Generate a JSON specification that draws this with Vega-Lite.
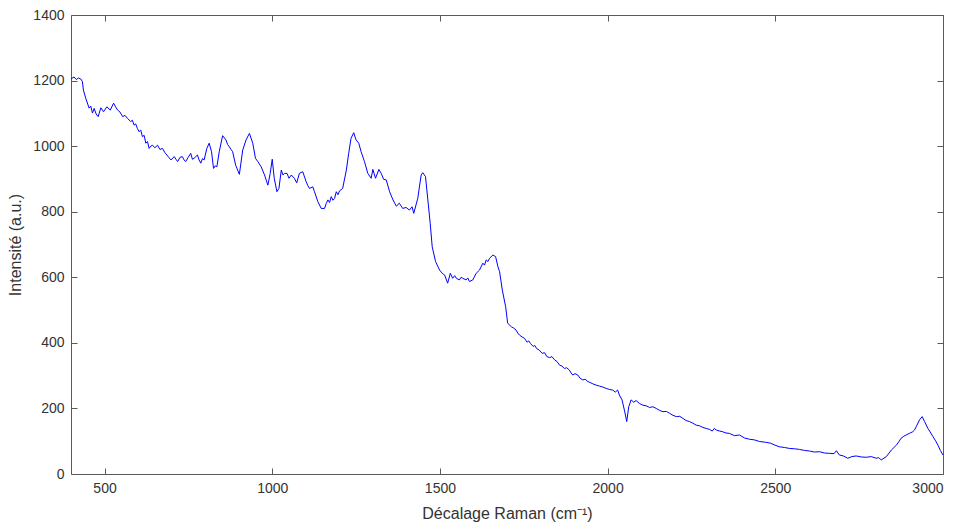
{
  "$schema": "https://vega.github.io/schema/vega-lite/v6.json",
  "autosize": "none",
  "width": 872,
  "height": 459,
  "padding": {"left": 71, "top": 15, "right": 20, "bottom": 52},
  "background": "white",
  "config": {
    "view": {"stroke": null},
    "font": "Liberation Sans",
    "axis": {
      "grid": false,
      "domainColor": "#5a5a5a",
      "tickColor": "#5a5a5a",
      "labelColor": "#333333",
      "titleColor": "#333333",
      "labelFont": "Liberation Sans",
      "titleFont": "Liberation Sans",
      "labelFontSize": 14,
      "titleFontSize": 16,
      "titleFontWeight": "normal",
      "tickSize": -6,
      "labelPadding": 13,
      "format": "d"
    }
  },
  "data": {"values": [
    {"x":400,"y":1205},{"x":409,"y":1211},{"x":416,"y":1203},{"x":422,"y":1208},{"x":429,"y":1205},{"x":434,"y":1197},{"x":437,"y":1171},{"x":444,"y":1146},
    {"x":454,"y":1116},{"x":459,"y":1122},{"x":464,"y":1101},{"x":469,"y":1115},{"x":475,"y":1098},{"x":481,"y":1090},{"x":489,"y":1117},{"x":497,"y":1105},
    {"x":507,"y":1120},{"x":517,"y":1110},{"x":527,"y":1131},{"x":533,"y":1120},{"x":539,"y":1110},{"x":546,"y":1104},{"x":554,"y":1090},{"x":561,"y":1094},{"x":568,"y":1085},
    {"x":578,"y":1075},{"x":583,"y":1079},{"x":588,"y":1064},{"x":593,"y":1068},{"x":598,"y":1054},{"x":603,"y":1044},{"x":608,"y":1049},{"x":613,"y":1029},{"x":618,"y":1033},{"x":623,"y":1009},
    {"x":628,"y":1014},{"x":633,"y":993},{"x":638,"y":1000},{"x":643,"y":1003},{"x":650,"y":995},{"x":658,"y":1003},{"x":665,"y":990},{"x":673,"y":993},{"x":680,"y":980},{"x":686,"y":973},{"x":692,"y":965},{"x":698,"y":958},
    {"x":708,"y":968},{"x":713,"y":960},{"x":718,"y":953},{"x":725,"y":966},{"x":732,"y":968},{"x":737,"y":958},{"x":742,"y":953},{"x":749,"y":965},{"x":757,"y":978},{"x":762,"y":960},{"x":767,"y":963},
    {"x":777,"y":973},{"x":782,"y":958},{"x":787,"y":948},{"x":792,"y":962},{"x":797,"y":958},{"x":805,"y":993},{"x":812,"y":1009},{"x":819,"y":983},
    {"x":825,"y":932},{"x":830,"y":940},{"x":835,"y":937},{"x":842,"y":983},{"x":852,"y":1032},{"x":862,"y":1019},{"x":867,"y":1005},{"x":872,"y":998},
    {"x":877,"y":990},{"x":882,"y":983},{"x":891,"y":942},{"x":902,"y":914},{"x":912,"y":988},{"x":922,"y":1019},{"x":932,"y":1039},
    {"x":942,"y":1009},{"x":950,"y":963},{"x":957,"y":953},{"x":967,"y":937},{"x":977,"y":912},{"x":987,"y":881},
    {"x":994,"y":917},{"x":1000,"y":960},{"x":1006,"y":902},{"x":1014,"y":861},{"x":1020,"y":871},{"x":1027,"y":927},
    {"x":1032,"y":912},{"x":1037,"y":917},{"x":1044,"y":917},{"x":1050,"y":902},{"x":1057,"y":912},{"x":1066,"y":902},{"x":1073,"y":888},
    {"x":1081,"y":917},{"x":1091,"y":922},{"x":1101,"y":892},{"x":1106,"y":880},{"x":1111,"y":871},{"x":1121,"y":876},{"x":1126,"y":861},
    {"x":1136,"y":831},{"x":1146,"y":810},{"x":1156,"y":810},{"x":1161,"y":825},{"x":1166,"y":836},{"x":1171,"y":828},{"x":1176,"y":846},{"x":1181,"y":835},{"x":1186,"y":841},
    {"x":1191,"y":861},{"x":1196,"y":852},{"x":1201,"y":864},{"x":1210,"y":871},{"x":1221,"y":927},{"x":1228,"y":978},{"x":1235,"y":1024},
    {"x":1243,"y":1041},{"x":1250,"y":1019},{"x":1258,"y":1009},{"x":1265,"y":983},{"x":1275,"y":953},{"x":1285,"y":917},
    {"x":1295,"y":902},{"x":1300,"y":929},{"x":1308,"y":902},{"x":1318,"y":929},{"x":1325,"y":917},{"x":1332,"y":899},
    {"x":1340,"y":897},{"x":1350,"y":861},{"x":1360,"y":836},{"x":1370,"y":817},{"x":1379,"y":826},{"x":1389,"y":810},
    {"x":1399,"y":813},{"x":1409,"y":805},{"x":1417,"y":815},{"x":1422,"y":795},{"x":1434,"y":841},{"x":1444,"y":912},
    {"x":1449,"y":919},{"x":1457,"y":907},{"x":1464,"y":836},{"x":1471,"y":765},{"x":1477,"y":693},{"x":1487,"y":648},
    {"x":1499,"y":622},{"x":1507,"y":612},{"x":1514,"y":607},{"x":1523,"y":582},{"x":1531,"y":612},{"x":1538,"y":597},{"x":1544,"y":605},{"x":1549,"y":597},
    {"x":1558,"y":592},{"x":1563,"y":600},{"x":1568,"y":597},{"x":1578,"y":592},{"x":1583,"y":598},{"x":1588,"y":587},{"x":1598,"y":592},{"x":1608,"y":612},
    {"x":1618,"y":622},{"x":1628,"y":643},{"x":1633,"y":637},{"x":1638,"y":653},{"x":1643,"y":648},{"x":1648,"y":658},{"x":1658,"y":668},{"x":1666,"y":663},
    {"x":1673,"y":632},{"x":1678,"y":617},{"x":1686,"y":561},{"x":1696,"y":510},{"x":1702,"y":460},{"x":1713,"y":449},
    {"x":1720,"y":445},{"x":1727,"y":439},{"x":1732,"y":430},{"x":1737,"y":424},{"x":1745,"y":418},{"x":1752,"y":414},{"x":1760,"y":402},{"x":1765,"y":406},{"x":1770,"y":398},{"x":1778,"y":389},{"x":1783,"y":392},{"x":1788,"y":383},{"x":1796,"y":378},{"x":1805,"y":368},
    {"x":1812,"y":370},{"x":1819,"y":358},{"x":1827,"y":355},{"x":1834,"y":358},{"x":1842,"y":348},{"x":1849,"y":343},{"x":1857,"y":332},{"x":1864,"y":329},{"x":1871,"y":322},{"x":1878,"y":324},{"x":1886,"y":317},{"x":1891,"y":308},{"x":1896,"y":302},
    {"x":1903,"y":306},{"x":1911,"y":302},{"x":1918,"y":292},{"x":1926,"y":287},{"x":1933,"y":289},{"x":1941,"y":282},{"x":1948,"y":279},{"x":1956,"y":275},{"x":1966,"y":271},{"x":1976,"y":268},{"x":1986,"y":265},{"x":1996,"y":261},
    {"x":2005,"y":258},{"x":2015,"y":256},{"x":2023,"y":250},{"x":2030,"y":256},{"x":2035,"y":241},{"x":2043,"y":226},{"x":2050,"y":195},{"x":2057,"y":160},
    {"x":2063,"y":205},{"x":2070,"y":226},{"x":2078,"y":219},{"x":2085,"y":224},{"x":2095,"y":215},{"x":2105,"y":210},{"x":2115,"y":208},{"x":2125,"y":203},{"x":2135,"y":205},{"x":2145,"y":200},
    {"x":2155,"y":194},{"x":2165,"y":190},{"x":2175,"y":191},{"x":2185,"y":185},{"x":2195,"y":179},{"x":2205,"y":175},{"x":2215,"y":176},{"x":2224,"y":170},{"x":2234,"y":163},{"x":2244,"y":160},{"x":2254,"y":155},{"x":2264,"y":149},
    {"x":2274,"y":147},{"x":2284,"y":142},{"x":2294,"y":139},{"x":2304,"y":136},{"x":2312,"y":131},{"x":2318,"y":139},{"x":2324,"y":134},{"x":2334,"y":131},{"x":2343,"y":129},{"x":2353,"y":125},{"x":2363,"y":124},{"x":2378,"y":117},{"x":2393,"y":119},
    {"x":2408,"y":110},{"x":2423,"y":106},{"x":2438,"y":104},{"x":2453,"y":99},{"x":2470,"y":97},{"x":2486,"y":94},{"x":2499,"y":88},{"x":2512,"y":83},{"x":2527,"y":81},{"x":2542,"y":78},{"x":2557,"y":77},{"x":2572,"y":75},
    {"x":2587,"y":72},{"x":2602,"y":70},{"x":2617,"y":67},{"x":2632,"y":68},{"x":2647,"y":64},{"x":2662,"y":63},{"x":2675,"y":62},{"x":2682,"y":71},{"x":2691,"y":58},{"x":2703,"y":55},{"x":2716,"y":48},
    {"x":2728,"y":53},{"x":2741,"y":55},{"x":2756,"y":52},{"x":2771,"y":51},{"x":2786,"y":53},{"x":2801,"y":48},{"x":2808,"y":50},{"x":2816,"y":43},{"x":2831,"y":53},{"x":2846,"y":73},
    {"x":2861,"y":88},{"x":2868,"y":98},{"x":2875,"y":109},{"x":2883,"y":115},{"x":2890,"y":119},{"x":2900,"y":124},{"x":2910,"y":129},{"x":2915,"y":134},{"x":2920,"y":144},{"x":2930,"y":165},
    {"x":2938,"y":175},{"x":2945,"y":160},{"x":2955,"y":139},{"x":2962,"y":128},{"x":2970,"y":114},{"x":2978,"y":101},{"x":2985,"y":88},{"x":2992,"y":72},{"x":3000,"y":58}
  ]},
  "layer": [
    {
      "mark": {"type": "line", "color": "#0000ff", "strokeWidth": 1, "interpolate": "linear"},
      "encoding": {
        "x": {"field": "x", "type": "quantitative", "scale": {"domain": [400, 3000], "nice": false, "zero": false},
              "axis": {"orient": "bottom", "values": [500,1000,1500,2000,2500,3000], "title": "Décalage Raman (cm⁻¹)", "titlePadding": 10}},
        "y": {"field": "y", "type": "quantitative", "scale": {"domain": [0, 1400], "nice": false},
              "axis": {"orient": "left", "values": [0,200,400,600,800,1000,1200,1400], "title": "Intensité (a.u.)", "titlePadding": 9}}
      }
    },
    {
      "mark": {"type": "line", "opacity": 0},
      "encoding": {
        "x": {"field": "x", "type": "quantitative", "axis": {"orient": "top", "values": [500,1000,1500,2000,2500,3000], "labels": false, "title": null}},
        "y": {"field": "y", "type": "quantitative", "axis": {"orient": "right", "values": [0,200,400,600,800,1000,1200,1400], "labels": false, "title": null}}
      }
    }
  ],
  "resolve": {"axis": {"x": "independent", "y": "independent"}}
}
